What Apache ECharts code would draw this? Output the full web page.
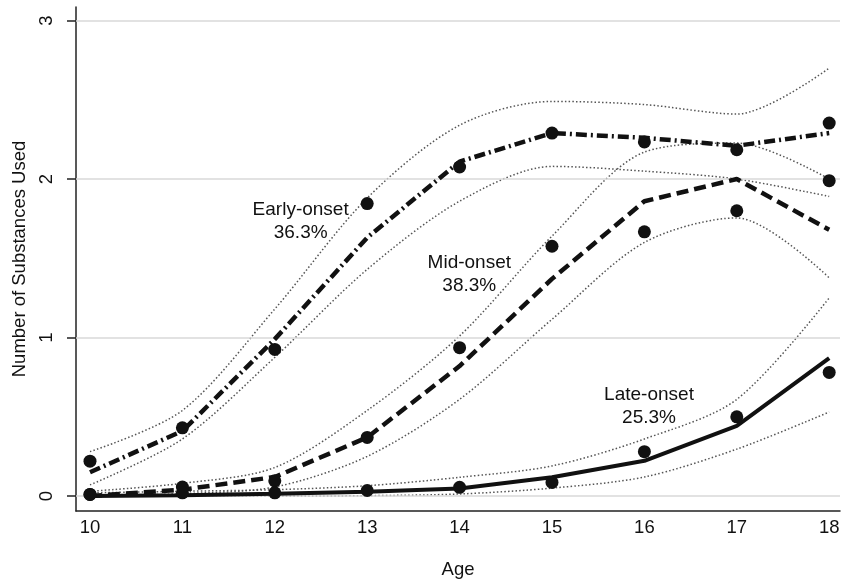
<!DOCTYPE html>
<html><head><meta charset="utf-8">
<script src="https://cdn.jsdelivr.net/npm/echarts@6/dist/echarts.min.js"></script>
<style>html,body{margin:0;padding:0;background:#fff}#c{width:845px;height:584px}</style>
</head><body><div id="c"></div>
<script>
// ---- data ----
const ages = [10, 11, 12, 13, 14, 15, 16, 17, 18];
const yTicks = [0, 1, 2, 3];

const earlyFit   = [0.15, 0.41, 0.99, 1.63, 2.11, 2.29, 2.26, 2.21, 2.29];
const earlyObs   = [0.22, 0.43, 0.925, 1.845, 2.076, 2.29, 2.234, 2.185, 2.353];
const earlyUpper = [0.28, 0.54, 1.18, 1.88, 2.34, 2.49, 2.47, 2.41, 2.70];
const earlyLower = [0.07, 0.36, 0.875, 1.43, 1.86, 2.08, 2.05, 2.0, 1.89];

const midFit   = [0.0, 0.04, 0.12, 0.37, 0.82, 1.37, 1.86, 2.0, 1.68];
const midObs   = [0.01, 0.057, 0.096, 0.37, 0.936, 1.576, 1.667, 1.80, 1.99];
const midUpper = [0.03, 0.08, 0.18, 0.54, 1.01, 1.64, 2.17, 2.227, 2.0];
const midLower = [0.0, 0.015, 0.057, 0.25, 0.61, 1.115, 1.60, 1.755, 1.377];

const lateFit   = [0.0, 0.005, 0.015, 0.027, 0.048, 0.118, 0.222, 0.443, 0.87];
const lateObs   = [0.01, 0.02, 0.02, 0.035, 0.055, 0.086, 0.28, 0.50, 0.78];
const lateUpper = [0.02, 0.03, 0.04, 0.065, 0.118, 0.19, 0.36, 0.61, 1.25];
const lateLower = [0.0, 0.0, 0.0, 0.002, 0.013, 0.05, 0.12, 0.296, 0.53];

const groupNames = ['Early-onset', 'Mid-onset', 'Late-onset'];
const groupShares = ['36.3%', '38.3%', '25.3%'];
const groupLabelAnchor = [[12.28, 1.735], [14.105, 1.40], [16.05, 0.567]];

const xTitle = 'Age';
const yTitle = 'Number of Substances Used';

// ---- chart ----
const FONT = '"Liberation Sans", Arial, Helvetica, sans-serif';
const TXT = '#111';
const pair = arr => ages.map((a, i) => [a, arr[i]]);

function lineSeries(arr, lineStyle, z, smooth) {
  return { type: 'line', data: pair(arr), symbol: 'none', silent: true,
           animation: false, z: z, smooth: smooth || false, lineStyle: lineStyle };
}
const ciStyle = { color: '#555', width: 1.5, type: [1.5, 2.2], cap: 'butt' };
function dots(arr) {
  return { type: 'scatter', data: pair(arr), symbol: 'circle', symbolSize: 13,
           itemStyle: { color: '#111', opacity: 1 }, silent: true, animation: false, z: 10 };
}

const series = [
  { type: 'line', data: [], silent: true, animation: false, z: 1,
    markLine: { silent: true, symbol: 'none', animation: false, label: { show: false },
      lineStyle: { color: '#d9d9d9', width: 1.5, type: 'solid' },
      data: yTicks.map(v => ({ yAxis: v })) } },
  lineSeries(earlyUpper, ciStyle, 3, 0.3), lineSeries(earlyLower, ciStyle, 3, 0.3),
  lineSeries(midUpper, ciStyle, 3, 0.3), lineSeries(midLower, ciStyle, 3, 0.3),
  lineSeries(lateUpper, ciStyle, 3, 0.3), lineSeries(lateLower, ciStyle, 3, 0.3),
  lineSeries(earlyFit, { color: '#111', width: 4.5, type: [11, 4, 2, 4], cap: 'butt' }, 5),
  lineSeries(midFit, { color: '#111', width: 4.5, type: [12, 6], cap: 'butt' }, 5),
  lineSeries(lateFit, { color: '#111', width: 4, type: 'solid' }, 5),
  dots(earlyObs), dots(midObs), dots(lateObs),
  { type: 'scatter', silent: true, animation: false, z: 12, symbolSize: 0,
    itemStyle: { opacity: 1, color: 'transparent' },
    data: groupLabelAnchor.map((p, i) => ({ value: p, name: groupNames[i] + '\n' + groupShares[i] })),
    label: { show: true, position: 'inside', formatter: p => p.name, opacity: 1,
             fontFamily: FONT, fontSize: 19, lineHeight: 23, color: TXT, align: 'center' } }
];

const chart = echarts.init(document.getElementById('c'), null, { renderer: 'canvas' });
chart.setOption({
  backgroundColor: '#fff',
  animation: false,
  grid: { left: 76, right: 5, top: 7, bottom: 72, containLabel: false },
  xAxis: {
    type: 'value', min: 9.8485, max: 18.117,
    name: xTitle, nameLocation: 'middle', nameGap: 49,
    nameTextStyle: { fontFamily: FONT, fontSize: 18.5, color: TXT },
    axisLine: { show: true, onZero: false, lineStyle: { color: '#222', width: 1.5 } },
    axisTick: { show: false },
    splitLine: { show: false },
    axisLabel: { customValues: ages, margin: 7, fontFamily: FONT, fontSize: 18.5, color: TXT }
  },
  yAxis: {
    type: 'value', min: -0.0945, max: 3.0856,
    name: yTitle, nameLocation: 'middle', nameGap: 47, nameRotate: 90,
    nameTextStyle: { fontFamily: FONT, fontSize: 18.5, color: TXT },
    axisLine: { show: true, onZero: false, lineStyle: { color: '#222', width: 1.5 } },
    axisTick: { show: true, customValues: yTicks, length: 9, lineStyle: { color: '#222', width: 1.5 } },
    splitLine: { show: false },
    axisLabel: { customValues: yTicks, rotate: 90, margin: 20, fontFamily: FONT, fontSize: 18.5, color: TXT }
  },
  series: series
});
</script>
</body></html>
